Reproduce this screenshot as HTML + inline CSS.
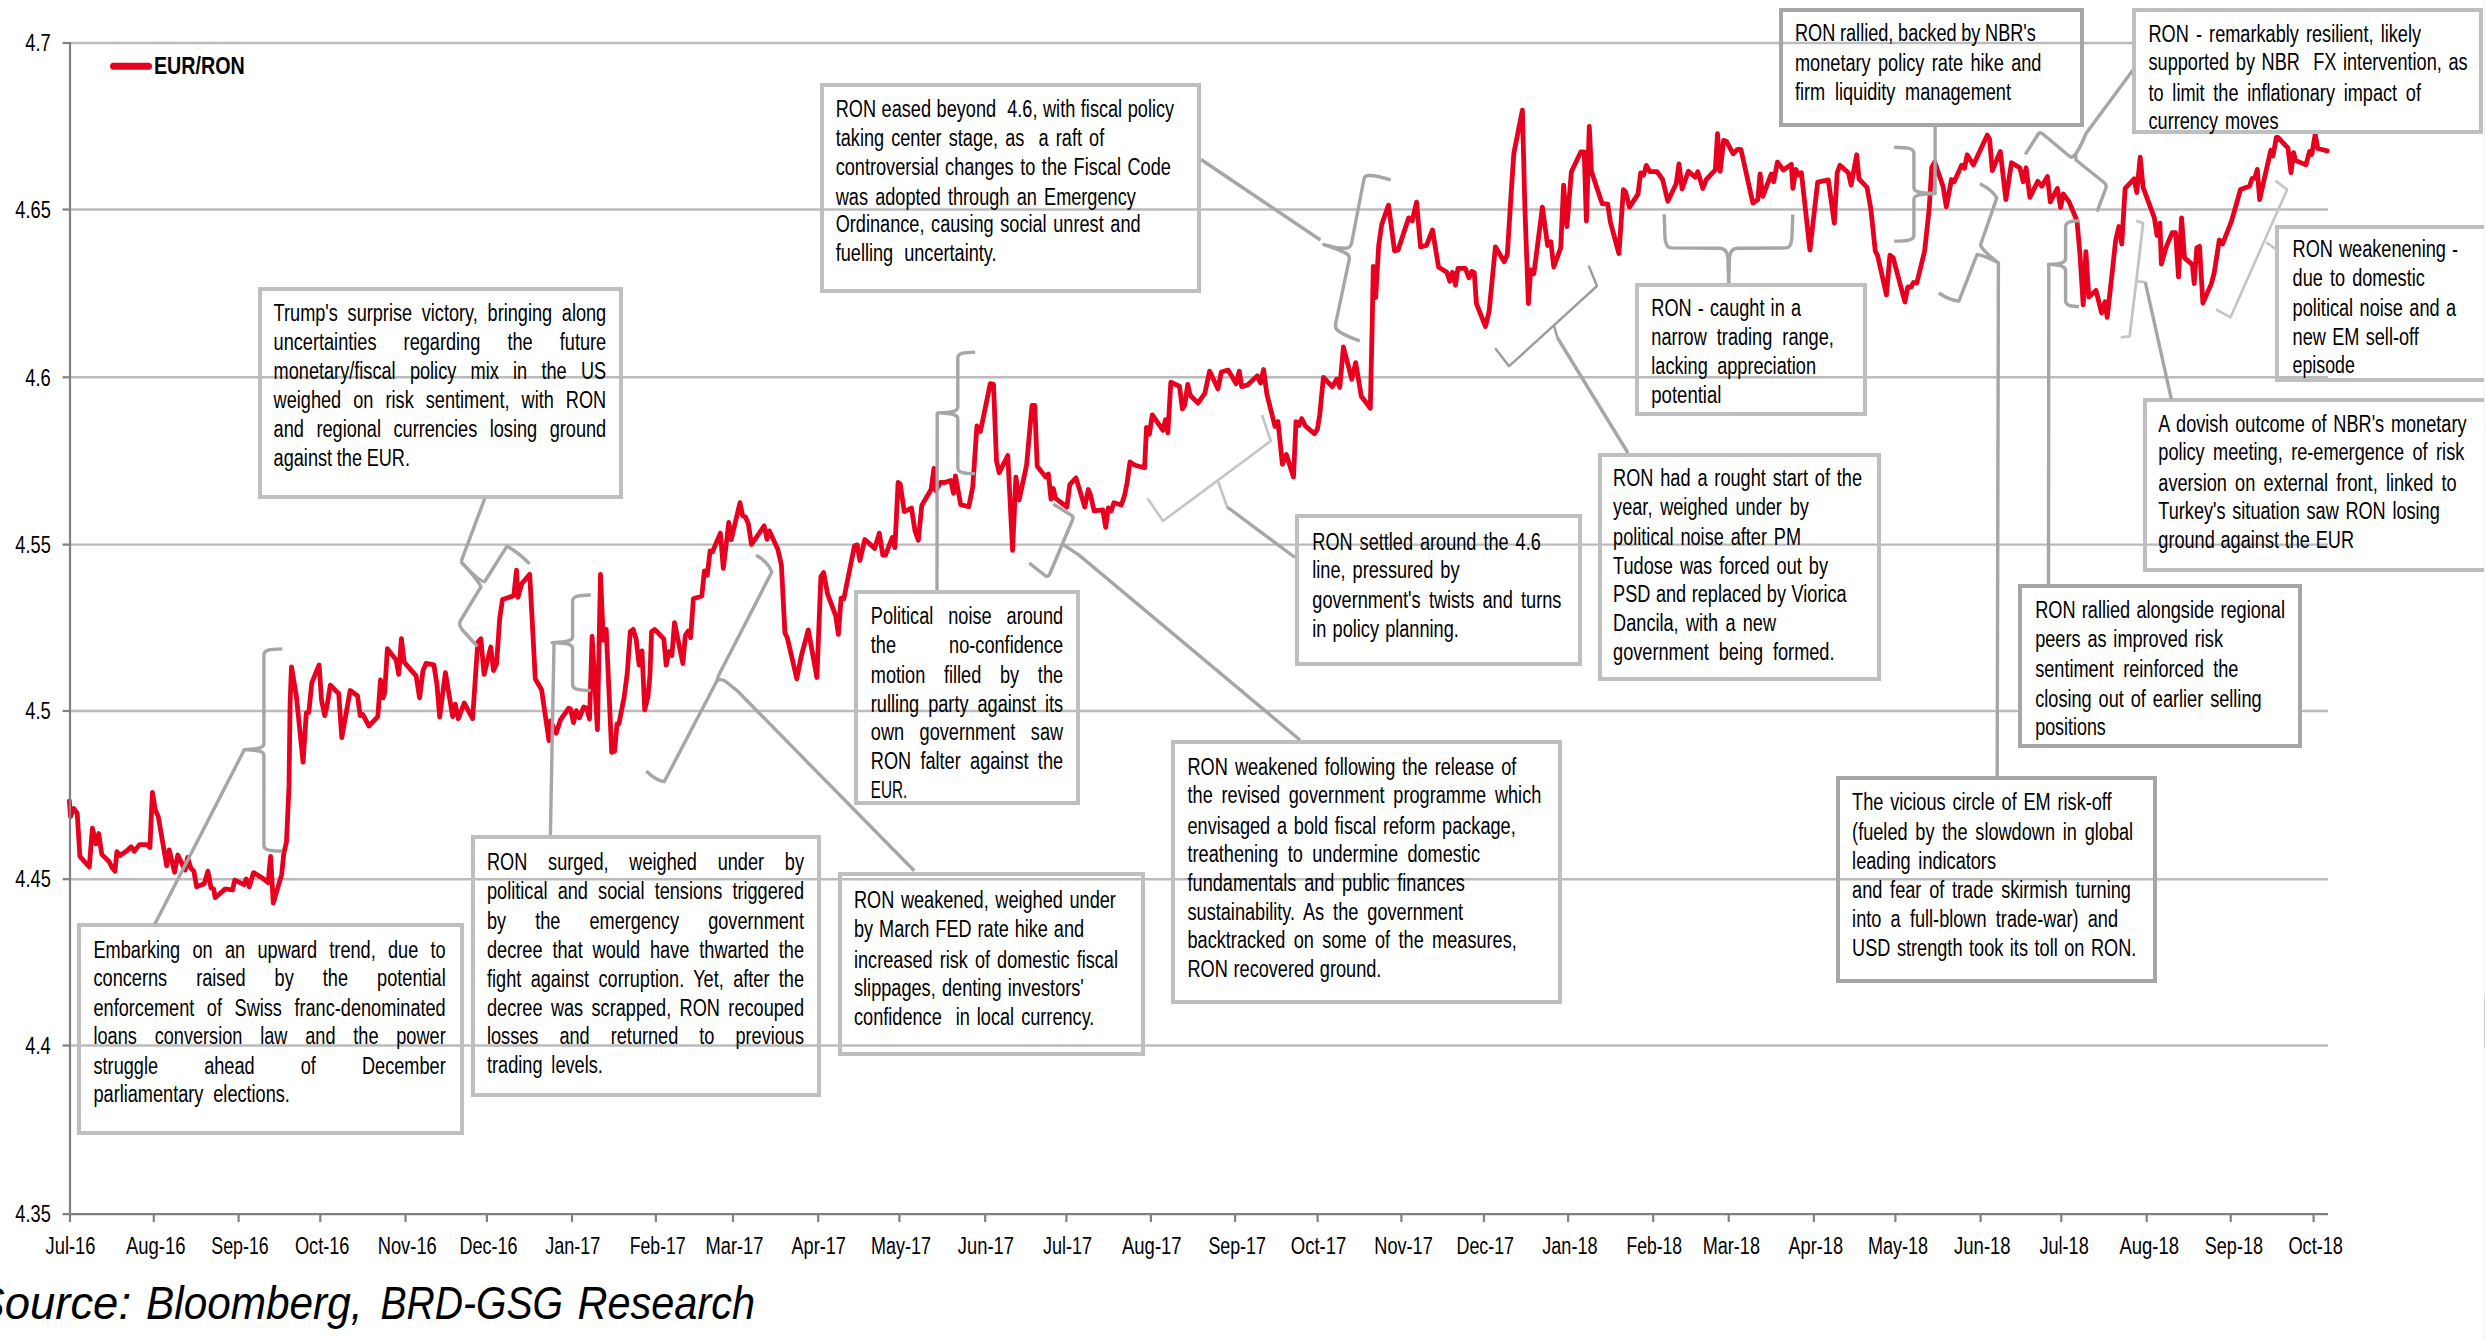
<!DOCTYPE html>
<html><head><meta charset="utf-8"><title>EUR/RON</title>
<style>html,body{margin:0;padding:0;background:#fff;overflow:hidden}svg{display:block}text{font-family:"Liberation Sans",sans-serif;fill:#000}</style></head><body>
<svg width="2485" height="1339" viewBox="0 0 2485 1339">
<rect width="2485" height="1339" fill="#fff"/>
<g stroke="#bbbbbb" stroke-width="2.4" fill="none">
<path d="M70 43H2328"/>
<path d="M70 209.5H2328"/>
<path d="M70 377.3H2328"/>
<path d="M70 544.6H2328"/>
<path d="M70 711.0H2328"/>
<path d="M70 879.2H2328"/>
<path d="M70 1045.5H2328"/>
</g>
<rect x="79.0" y="925.0" width="383.0" height="208.0" fill="none" stroke="#bfbfbf" stroke-width="4"/>
<rect x="473.0" y="837.0" width="346.0" height="258.0" fill="none" stroke="#bfbfbf" stroke-width="4"/>
<rect x="260.0" y="289.0" width="361.0" height="208.0" fill="none" stroke="#bfbfbf" stroke-width="4"/>
<rect x="822.0" y="85.0" width="377.0" height="206.0" fill="none" stroke="#bfbfbf" stroke-width="4"/>
<rect x="856.0" y="592.0" width="222.0" height="211.0" fill="none" stroke="#bfbfbf" stroke-width="4"/>
<rect x="840.0" y="874.0" width="303.0" height="180.0" fill="none" stroke="#bfbfbf" stroke-width="4"/>
<rect x="1173.0" y="742.0" width="387.0" height="260.0" fill="none" stroke="#bfbfbf" stroke-width="4"/>
<rect x="1297.0" y="516.0" width="283.0" height="148.0" fill="none" stroke="#bfbfbf" stroke-width="4"/>
<rect x="1600.0" y="455.0" width="279.0" height="224.0" fill="none" stroke="#bfbfbf" stroke-width="4"/>
<rect x="1637.0" y="285.0" width="228.0" height="129.0" fill="none" stroke="#bfbfbf" stroke-width="4"/>
<rect x="1781.0" y="10.0" width="301.0" height="115.0" fill="none" stroke="#a6a6a6" stroke-width="4"/>
<rect x="2277.0" y="227.0" width="216.0" height="153.0" fill="none" stroke="#bfbfbf" stroke-width="4"/>
<rect x="2145.0" y="400.0" width="348.0" height="170.0" fill="none" stroke="#bfbfbf" stroke-width="4"/>
<rect x="1838.0" y="778.0" width="317.0" height="203.0" fill="none" stroke="#a6a6a6" stroke-width="4"/>
<polyline points="69.4,801.0 70.5,816.7 73.6,808.4 77.2,813.2 79.9,856.5 89.3,866.9 92.4,828.2 96.0,843.9 98.7,833.5 101.8,854.4 109.2,861.7 112.3,868.0 115.0,871.1 116.9,851.7 120.0,855.4 126.9,850.8 131.1,846.7 134.3,851.3 139.5,844.6 146.8,844.6 149.9,847.5 152.4,792.3 155.2,809.4 158.3,816.7 166.7,865.9 169.2,849.8 174.6,872.2 177.8,855.0 185.1,870.1 187.6,857.5 190.7,868.0 193.9,871.1 196.6,886.8 204.3,883.7 207.9,871.1 211.0,887.9 213.7,888.9 215.2,897.7 225.2,888.9 232.6,890.0 234.7,880.1 244.1,884.7 246.2,878.9 249.3,886.8 253.5,872.6 262.9,878.4 268.1,882.6 270.6,856.5 273.3,903.1 281.7,874.3 283.8,853.4 286.5,841.8 289.0,786.4 290.1,702.8 291.5,666.8 296.4,696.5 303.1,762.2 306.3,712.8 308.8,712.4 311.8,682.8 319.1,664.9 321.5,699.9 324.7,715.6 327.2,705.1 330.3,685.2 338.7,693.6 341.8,737.5 350.2,690.5 357.5,695.7 360.2,715.6 362.7,714.5 369.0,726.0 377.8,716.6 380.5,680.0 383.2,697.8 384.7,692.6 387.4,648.6 396.2,660.1 398.7,674.4 401.4,638.6 404.2,662.2 416.1,675.8 419.6,697.8 423.0,670.6 426.1,663.3 433.9,664.9 437.0,685.2 439.7,717.0 445.4,672.7 452.7,716.6 455.2,704.1 458.3,718.7 464.2,703.0 472.6,718.7 477.8,642.4 480.9,638.8 484.1,674.4 490.8,647.0 493.5,670.6 496.6,663.9 499.7,618.3 502.5,599.5 513.8,595.7 516.5,570.2 517.9,597.4 521.7,583.8 529.7,574.4 532.2,620.4 535.3,679.0 541.6,689.8 549.0,740.6 550.5,721.0 556.2,733.3 560.3,720.2 568.7,708.2 570.6,708.9 573.5,722.6 576.3,710.6 579.4,717.8 583.7,707.0 586.6,708.2 589.5,719.0 592.1,636.5 597.4,729.7 600.5,574.4 603.3,640.1 606.2,629.4 611.7,752.4 614.6,751.2 617.0,723.8 618.9,723.8 624.1,697.5 627.2,673.6 630.3,631.7 633.2,629.4 636.1,638.9 639.2,665.2 642.0,650.9 644.7,709.9 648.0,696.3 649.9,676.0 651.6,631.7 654.7,629.4 663.8,638.9 666.2,665.2 669.0,651.6 671.9,655.6 674.5,622.7 682.9,663.5 685.3,635.3 688.2,631.0 690.6,637.7 693.4,598.8 701.8,595.9 704.4,570.8 707.3,575.1 710.1,551.0 712.5,551.7 720.4,533.1 723.3,568.4 728.8,522.5 731.2,539.7 740.0,502.7 742.6,515.8 745.5,517.0 748.4,524.2 751.5,544.5 764.2,525.9 767.0,539.3 769.4,530.9 777.8,549.3 781.4,564.8 784.9,632.9 787.3,637.7 796.8,678.8 801.3,655.9 808.3,629.9 816.9,677.5 820.9,576.6 823.6,572.6 827.6,594.1 835.7,615.6 838.4,634.4 841.1,598.1 843.8,598.9 854.5,545.7 857.2,544.9 859.9,560.5 864.8,539.5 874.7,548.4 879.3,533.1 882.8,555.1 885.5,555.1 892.2,537.6 894.9,547.6 898.1,482.5 900.2,483.9 904.3,511.6 911.5,508.1 915.0,530.9 918.3,540.3 921.8,505.4 931.2,489.2 933.9,468.5 935.7,490.6 940.6,482.5 944.6,482.5 950.8,480.4 953.5,493.3 955.4,475.8 960.7,504.6 968.8,506.7 972.8,486.5 976.9,426.0 980.4,431.4 990.3,383.6 993.5,384.4 996.5,461.0 999.2,472.6 1007.8,455.6 1012.6,550.3 1015.9,477.1 1019.1,500.0 1026.6,465.0 1032.0,405.5 1034.8,405.5 1037.2,466.2 1045.5,476.9 1048.4,474.0 1051.0,499.2 1053.3,488.5 1055.6,498.3 1066.9,507.0 1069.8,484.7 1076.0,477.9 1084.8,507.0 1088.3,489.5 1090.6,495.3 1094.1,510.9 1102.8,509.9 1105.7,527.4 1108.3,508.0 1111.2,510.9 1113.9,502.7 1121.3,505.0 1124.6,495.3 1127.1,482.7 1130.0,461.9 1134.9,465.2 1144.6,467.8 1146.5,427.4 1149.4,434.2 1152.3,414.8 1163.0,430.3 1165.5,419.6 1167.9,432.8 1170.8,382.3 1179.5,386.2 1182.4,408.9 1184.8,405.0 1187.7,384.3 1190.2,395.3 1198.0,403.1 1204.8,393.4 1209.6,371.1 1218.0,388.9 1221.3,372.0 1228.1,370.1 1236.2,383.7 1239.3,371.1 1241.7,386.6 1247.5,385.0 1257.2,375.9 1260.5,383.1 1263.6,369.5 1266.9,394.4 1275.0,426.4 1278.0,421.6 1282.4,464.3 1286.3,454.6 1293.5,476.9 1296.0,421.6 1298.8,425.5 1301.7,418.6 1305.5,426.2 1314.4,433.7 1317.4,429.2 1319.8,414.3 1323.4,377.5 1332.4,386.8 1336.8,379.0 1339.8,387.4 1343.4,347.0 1351.8,379.3 1355.7,362.6 1361.3,396.3 1370.3,408.3 1372.1,329.1 1373.3,266.3 1375.7,297.7 1378.7,245.4 1381.7,224.5 1388.5,205.1 1394.5,250.8 1398.1,249.9 1408.6,217.9 1412.2,220.9 1416.6,202.1 1420.5,246.9 1426.5,245.4 1432.5,229.9 1438.5,266.9 1446.8,272.3 1449.8,281.3 1452.5,272.3 1455.5,285.2 1457.9,268.4 1465.4,268.4 1468.9,277.7 1471.9,271.4 1474.3,272.9 1476.4,303.7 1485.5,326.5 1489.1,311.5 1495.4,246.8 1504.2,261.8 1507.3,254.5 1511.0,196.0 1513.8,153.5 1522.4,110.2 1524.9,208.5 1528.4,303.5 1530.7,269.8 1533.9,273.7 1542.4,207.1 1547.6,245.5 1550.8,241.7 1553.8,267.0 1560.7,247.9 1563.6,185.1 1566.9,226.6 1571.4,171.7 1580.8,152.0 1584.2,152.0 1586.4,221.0 1589.3,126.4 1591.4,171.3 1602.1,203.5 1607.7,204.2 1610.4,222.1 1618.9,253.5 1623.4,189.6 1625.6,191.9 1629.5,207.1 1638.0,194.1 1640.7,172.8 1643.6,175.1 1646.3,165.4 1649.8,171.7 1657.0,171.7 1662.6,179.5 1667.8,201.3 1676.1,184.0 1679.0,163.9 1682.1,189.0 1688.4,171.3 1695.1,177.3 1697.8,171.7 1702.9,188.5 1706.3,179.5 1715.3,169.9 1717.5,133.6 1720.2,171.3 1723.6,140.3 1726.5,141.5 1733.2,153.8 1737.7,149.3 1741.0,149.7 1752.9,203.1 1757.8,199.7 1760.1,173.9 1762.8,196.3 1771.3,173.9 1773.7,181.8 1777.4,162.2 1783.4,170.0 1791.3,164.4 1792.9,188.4 1795.8,169.4 1798.7,175.0 1801.4,172.7 1809.9,250.0 1817.7,182.1 1828.3,179.9 1834.3,223.2 1837.2,172.7 1839.9,165.3 1848.4,172.7 1851.1,185.1 1856.7,154.8 1859.0,179.0 1867.0,187.3 1870.8,208.6 1875.3,251.2 1877.6,255.6 1886.5,294.9 1889.9,255.2 1893.2,257.9 1904.9,302.0 1907.8,287.0 1911.2,287.0 1913.4,282.5 1916.8,283.0 1924.6,251.2 1929.1,209.7 1931.8,167.1 1934.7,162.0 1943.0,186.2 1946.3,206.8 1951.5,179.5 1954.2,181.7 1961.6,165.3 1964.5,168.3 1967.2,154.8 1973.4,164.9 1987.3,135.1 1989.6,139.1 1992.3,170.5 2000.3,151.5 2005.9,199.6 2011.5,162.7 2019.8,167.8 2023.2,181.7 2026.1,167.8 2029.9,197.4 2037.8,181.3 2041.8,186.2 2047.5,176.5 2050.3,201.9 2057.4,188.4 2060.6,207.5 2063.3,194.0 2069.1,201.9 2074.7,215.3 2077.0,220.9 2079.9,253.4 2083.2,304.9 2085.9,251.6 2088.8,297.1 2096.0,290.4 2101.6,312.8 2105.0,301.6 2107.2,317.3 2111.7,276.9 2115.7,240.0 2118.9,226.5 2121.8,244.0 2125.1,188.4 2134.1,178.8 2136.8,192.5 2140.2,157.1 2143.1,187.3 2154.3,217.6 2157.0,235.5 2159.9,223.2 2161.4,264.2 2165.9,247.8 2172.2,232.6 2175.6,232.6 2178.5,276.9 2181.6,218.0 2184.5,257.9 2192.4,264.6 2194.2,283.6 2196.8,247.8 2199.5,246.2 2202.9,303.1 2211.4,283.6 2214.3,272.4 2219.3,240.0 2222.6,244.0 2231.6,220.9 2240.5,189.5 2249.5,186.2 2252.2,178.3 2254.7,178.3 2257.3,169.4 2259.6,199.6 2270.8,150.3 2273.0,155.9 2276.4,137.3 2278.0,137.3 2288.0,148.1 2291.0,172.7 2293.6,152.6 2295.4,160.4 2306.0,164.9 2309.5,151.5 2311.8,154.4 2315.2,134.2 2317.8,148.5 2327.3,150.8" fill="none" stroke="#e8001f" stroke-width="4.8" stroke-linejoin="round" stroke-linecap="round"/>
<path d="M282.3 648.9C270.9 649.2 263.9 649.5 263.9 654.9L263.9 743.6C263.9 748.0 258.9 748.9 244.2 749.6C258.9 750.3 263.9 751.2 263.9 755.6L263.9 845.3C263.9 850.7 270.9 851.0 282.3 851.3" fill="none" stroke="#a6a6a6" stroke-width="3.4" stroke-linejoin="round" stroke-linecap="butt"/>
<path d="M244.3 749.8L154.9 924" fill="none" stroke="#a6a6a6" stroke-width="3.4" stroke-linejoin="round" stroke-linecap="butt"/>
<path d="M529.5 563.8Q518 552 507 546.2L484.8 581.5Q480.5 582.5 461 561.8" fill="none" stroke="#a6a6a6" stroke-width="3.4" stroke-linejoin="round" stroke-linecap="butt"/>
<path d="M461 561.8Q478 580 480.9 586.9L460.3 621Q458.3 625 462.5 630L477.4 646.5" fill="none" stroke="#a6a6a6" stroke-width="3.4" stroke-linejoin="round" stroke-linecap="butt"/>
<path d="M461 561.8L484.6 499" fill="none" stroke="#a6a6a6" stroke-width="3.4" stroke-linejoin="round" stroke-linecap="butt"/>
<path d="M590.8 595.0C579.6 595.3 572.6 595.6 572.6 601.0L572.6 636.6C572.6 641.0 567.6 641.9 552.1 642.6C567.6 643.3 572.6 644.2 572.6 648.6L572.6 684.4C572.6 689.8 579.6 690.1 590.8 690.4" fill="none" stroke="#a6a6a6" stroke-width="3.4" stroke-linejoin="round" stroke-linecap="butt"/>
<path d="M554 644L550.4 835" fill="none" stroke="#a6a6a6" stroke-width="3.4" stroke-linejoin="round" stroke-linecap="butt"/>
<path d="M756.3 555.3Q768 562 771.8 572L719.7 673.3Q717.5 677 717.1 680.5L664.2 781.7Q655 780 646.3 771" fill="none" stroke="#a6a6a6" stroke-width="3.4" stroke-linejoin="round" stroke-linecap="butt"/>
<path d="M717.1 680.5Q722 678 727 682.5L736.8 690.3L914.2 870.8" fill="none" stroke="#a6a6a6" stroke-width="3.4" stroke-linejoin="round" stroke-linecap="butt"/>
<path d="M975.2 352.1C964.8 352.4 957.8 352.7 957.8 358.1L957.8 406.9C957.8 411.3 952.8 412.2 937.6 412.9C952.8 413.6 957.8 414.5 957.8 418.9L957.8 467.8C957.8 473.2 964.8 473.5 975.2 473.8" fill="none" stroke="#a6a6a6" stroke-width="3.4" stroke-linejoin="round" stroke-linecap="butt"/>
<path d="M937.2 413L937.0 590" fill="none" stroke="#a6a6a6" stroke-width="3.4" stroke-linejoin="round" stroke-linecap="butt"/>
<path d="M1053.3 504.1L1071 515Q1074 517 1072.5 520L1049.5 574.5Q1048 577.5 1045 575.5L1029.3 563.2" fill="none" stroke="#a6a6a6" stroke-width="3.4" stroke-linejoin="round" stroke-linecap="butt"/>
<path d="M1062 543.9L1078.5 554.6L1300 740" fill="none" stroke="#a6a6a6" stroke-width="3.4" stroke-linejoin="round" stroke-linecap="butt"/>
<path d="M1262 414.8L1270.8 441L1163 521L1147.5 498.3" fill="none" stroke="#c4c4c4" stroke-width="2.6" stroke-linejoin="round" stroke-linecap="butt"/>
<path d="M1218.3 481.7L1227.1 507" fill="none" stroke="#c4c4c4" stroke-width="2.6" stroke-linejoin="round" stroke-linecap="butt"/>
<path d="M1227.1 507L1295 557.5" fill="none" stroke="#a6a6a6" stroke-width="3.4" stroke-linejoin="round" stroke-linecap="butt"/>
<path d="M1201 159.5L1320.4 240" fill="none" stroke="#a6a6a6" stroke-width="3.4" stroke-linejoin="round" stroke-linecap="butt"/>
<path d="M1390.7 179.8Q1375 175 1368 175.5Q1364.5 175.8 1364 179L1351.6 243Q1350.5 248.5 1345 248.2Q1335 248 1323.8 244.6Q1342 250.5 1347 254Q1349.8 256 1349.2 259.5L1335.6 324Q1334.8 329 1339 331.5Q1347 336.5 1359.9 341" fill="none" stroke="#a6a6a6" stroke-width="3.4" stroke-linejoin="round" stroke-linecap="butt"/>
<path d="M1588.7 265.8L1597 286L1509.1 366.2L1495.2 348.3" fill="none" stroke="#9c9c9c" stroke-width="2.4" stroke-linejoin="round" stroke-linecap="butt"/>
<path d="M1553.9 325.2L1557.3 337.5" fill="none" stroke="#9c9c9c" stroke-width="2.4" stroke-linejoin="round" stroke-linecap="butt"/>
<path d="M1557.3 337.5L1628 453" fill="none" stroke="#a6a6a6" stroke-width="3.4" stroke-linejoin="round" stroke-linecap="butt"/>
<path d="M1664.2 214.3L1664.9 236Q1665.3 247.5 1671 247.9L1720 248.2Q1727.3 248.8 1727.9 258L1728.7 283" fill="none" stroke="#a6a6a6" stroke-width="3.4" stroke-linejoin="round" stroke-linecap="butt"/>
<path d="M1792.8 214.5L1792 236Q1791.6 247.5 1786 247.9L1737 248.2Q1730 248.8 1729.5 258L1728.7 283" fill="none" stroke="#a6a6a6" stroke-width="3.4" stroke-linejoin="round" stroke-linecap="butt"/>
<path d="M1935.1 127L1935.1 194" fill="none" stroke="#a6a6a6" stroke-width="3.4" stroke-linejoin="round" stroke-linecap="butt"/>
<path d="M1894.2 147.2C1906.9 147.5 1913.9 147.8 1913.9 153.2L1913.9 187.6C1913.9 192.0 1918.9 192.9 1935.1 193.6C1918.9 194.3 1913.9 195.2 1913.9 199.6L1913.9 235.3C1913.9 240.7 1906.9 241.0 1894.2 241.3" fill="none" stroke="#a6a6a6" stroke-width="3.4" stroke-linejoin="round" stroke-linecap="butt"/>
<path d="M1979.9 183.8Q1993 190.5 1996.7 198.1L1980.4 245.2Q1984 252 1998.4 262.8Q1985 256 1977.1 254.4L1958.9 301.1Q1949 300 1938.8 293" fill="none" stroke="#a6a6a6" stroke-width="3.4" stroke-linejoin="round" stroke-linecap="butt"/>
<path d="M1998.4 262.4L1997.2 777" fill="none" stroke="#a6a6a6" stroke-width="3.4" stroke-linejoin="round" stroke-linecap="butt"/>
<path d="M2025.3 154.4L2038.3 134Q2039.8 131.5 2042.5 133.8L2070.7 157.3L2075.7 155.3L2076 160L2104.3 182.8Q2107 185 2105.8 188.5L2097 211.6" fill="none" stroke="#a6a6a6" stroke-width="3.4" stroke-linejoin="round" stroke-linecap="butt"/>
<path d="M2073 157.5Q2079 151 2086 133.5L2133 70" fill="none" stroke="#a6a6a6" stroke-width="3.4" stroke-linejoin="round" stroke-linecap="butt"/>
<path d="M2079.1 220.8C2072.6 221.1 2065.6 221.4 2065.6 226.8L2065.6 258.4C2065.6 262.8 2060.6 263.7 2048.3 264.4C2060.6 265.1 2065.6 266.0 2065.6 270.4L2065.6 300.8C2065.6 306.2 2072.6 306.5 2079.1 306.8" fill="none" stroke="#a6a6a6" stroke-width="3.4" stroke-linejoin="round" stroke-linecap="butt"/>
<path d="M2048.8 264.6L2048.5 584" fill="none" stroke="#a6a6a6" stroke-width="3.4" stroke-linejoin="round" stroke-linecap="butt"/>
<path d="M2136.3 220.9L2143.1 223.2L2136.3 281.4L2145.3 282.1" fill="none" stroke="#c4c4c4" stroke-width="2.8" stroke-linejoin="round" stroke-linecap="butt"/>
<path d="M2136.3 281.4L2129.6 336.3L2120.7 337.4" fill="none" stroke="#c4c4c4" stroke-width="2.8" stroke-linejoin="round" stroke-linecap="butt"/>
<path d="M2145.3 282.1L2171.3 399" fill="none" stroke="#a6a6a6" stroke-width="3.4" stroke-linejoin="round" stroke-linecap="butt"/>
<path d="M2275.3 180.6L2287.1 189.5L2230.5 317.3L2215.9 309.4" fill="none" stroke="#c4c4c4" stroke-width="2.6" stroke-linejoin="round" stroke-linecap="butt"/>
<path d="M2266.3 242.2L2278.6 251.2" fill="none" stroke="#c4c4c4" stroke-width="2.6" stroke-linejoin="round" stroke-linecap="butt"/>
<rect x="2134.0" y="10.0" width="347.0" height="122.0" fill="#fff" stroke="#bfbfbf" stroke-width="4"/>
<rect x="2020.0" y="586.0" width="280.0" height="160.0" fill="#fff" stroke="#a6a6a6" stroke-width="4"/>
<g stroke="#808080" stroke-width="2.2" fill="none">
<path d="M70 42V1215.3"/>
<path d="M62.5 1214.2H2328"/>
<path d="M62.5 43H70"/>
<path d="M62.5 209.5H70"/>
<path d="M62.5 377.3H70"/>
<path d="M62.5 544.6H70"/>
<path d="M62.5 711.0H70"/>
<path d="M62.5 879.2H70"/>
<path d="M62.5 1045.5H70"/>
<path d="M70 1214.2V1222"/>
<path d="M153.8 1214.2V1222"/>
<path d="M238.6 1214.2V1222"/>
<path d="M320.3 1214.2V1222"/>
<path d="M405.5 1214.2V1222"/>
<path d="M486.9 1214.2V1222"/>
<path d="M572.0 1214.2V1222"/>
<path d="M655.9 1214.2V1222"/>
<path d="M733.0 1214.2V1222"/>
<path d="M818.2 1214.2V1222"/>
<path d="M899.4 1214.2V1222"/>
<path d="M985.2 1214.2V1222"/>
<path d="M1066.4 1214.2V1222"/>
<path d="M1150.9 1214.2V1222"/>
<path d="M1235.1 1214.2V1222"/>
<path d="M1317.6 1214.2V1222"/>
<path d="M1401.4 1214.2V1222"/>
<path d="M1483.9 1214.2V1222"/>
<path d="M1568.1 1214.2V1222"/>
<path d="M1653.2 1214.2V1222"/>
<path d="M1728.7 1214.2V1222"/>
<path d="M1813.9 1214.2V1222"/>
<path d="M1895.4 1214.2V1222"/>
<path d="M1980.6 1214.2V1222"/>
<path d="M2061.3 1214.2V1222"/>
<path d="M2146.7 1214.2V1222"/>
<path d="M2230.7 1214.2V1222"/>
<path d="M2313.6 1214.2V1222"/>
</g>
<text x="25.3" y="51.2" font-size="23" textLength="25.5" lengthAdjust="spacingAndGlyphs" xml:space="preserve">4.7</text>
<text x="15.3" y="217.7" font-size="23" textLength="35.5" lengthAdjust="spacingAndGlyphs" xml:space="preserve">4.65</text>
<text x="25.3" y="385.5" font-size="23" textLength="25.5" lengthAdjust="spacingAndGlyphs" xml:space="preserve">4.6</text>
<text x="15.3" y="552.8" font-size="23" textLength="35.5" lengthAdjust="spacingAndGlyphs" xml:space="preserve">4.55</text>
<text x="25.3" y="719.2" font-size="23" textLength="25.5" lengthAdjust="spacingAndGlyphs" xml:space="preserve">4.5</text>
<text x="15.3" y="887.4" font-size="23" textLength="35.5" lengthAdjust="spacingAndGlyphs" xml:space="preserve">4.45</text>
<text x="25.3" y="1053.7" font-size="23" textLength="25.5" lengthAdjust="spacingAndGlyphs" xml:space="preserve">4.4</text>
<text x="15.3" y="1222.3" font-size="23" textLength="35.5" lengthAdjust="spacingAndGlyphs" xml:space="preserve">4.35</text>
<text x="45.6" y="1253.6" font-size="23" textLength="49.9" lengthAdjust="spacingAndGlyphs" xml:space="preserve">Jul-16</text>
<text x="125.9" y="1253.6" font-size="23" textLength="59.7" lengthAdjust="spacingAndGlyphs" xml:space="preserve">Aug-16</text>
<text x="211.3" y="1253.6" font-size="23" textLength="57.4" lengthAdjust="spacingAndGlyphs" xml:space="preserve">Sep-16</text>
<text x="294.9" y="1253.6" font-size="23" textLength="54.6" lengthAdjust="spacingAndGlyphs" xml:space="preserve">Oct-16</text>
<text x="377.7" y="1253.6" font-size="23" textLength="59.1" lengthAdjust="spacingAndGlyphs" xml:space="preserve">Nov-16</text>
<text x="459.5" y="1253.6" font-size="23" textLength="58.1" lengthAdjust="spacingAndGlyphs" xml:space="preserve">Dec-16</text>
<text x="545.3" y="1253.6" font-size="23" textLength="55.1" lengthAdjust="spacingAndGlyphs" xml:space="preserve">Jan-17</text>
<text x="629.8" y="1253.6" font-size="23" textLength="55.8" lengthAdjust="spacingAndGlyphs" xml:space="preserve">Feb-17</text>
<text x="705.6" y="1253.6" font-size="23" textLength="57.8" lengthAdjust="spacingAndGlyphs" xml:space="preserve">Mar-17</text>
<text x="791.5" y="1253.6" font-size="23" textLength="54.4" lengthAdjust="spacingAndGlyphs" xml:space="preserve">Apr-17</text>
<text x="871.0" y="1253.6" font-size="23" textLength="60.0" lengthAdjust="spacingAndGlyphs" xml:space="preserve">May-17</text>
<text x="957.8" y="1253.6" font-size="23" textLength="56.1" lengthAdjust="spacingAndGlyphs" xml:space="preserve">Jun-17</text>
<text x="1043.0" y="1253.6" font-size="23" textLength="49.0" lengthAdjust="spacingAndGlyphs" xml:space="preserve">Jul-17</text>
<text x="1122.0" y="1253.6" font-size="23" textLength="59.6" lengthAdjust="spacingAndGlyphs" xml:space="preserve">Aug-17</text>
<text x="1208.4" y="1253.6" font-size="23" textLength="57.4" lengthAdjust="spacingAndGlyphs" xml:space="preserve">Sep-17</text>
<text x="1290.8" y="1253.6" font-size="23" textLength="55.5" lengthAdjust="spacingAndGlyphs" xml:space="preserve">Oct-17</text>
<text x="1374.3" y="1253.6" font-size="23" textLength="58.5" lengthAdjust="spacingAndGlyphs" xml:space="preserve">Nov-17</text>
<text x="1456.5" y="1253.6" font-size="23" textLength="57.5" lengthAdjust="spacingAndGlyphs" xml:space="preserve">Dec-17</text>
<text x="1542.3" y="1253.6" font-size="23" textLength="55.2" lengthAdjust="spacingAndGlyphs" xml:space="preserve">Jan-18</text>
<text x="1626.5" y="1253.6" font-size="23" textLength="55.5" lengthAdjust="spacingAndGlyphs" xml:space="preserve">Feb-18</text>
<text x="1702.7" y="1253.6" font-size="23" textLength="57.3" lengthAdjust="spacingAndGlyphs" xml:space="preserve">Mar-18</text>
<text x="1788.5" y="1253.6" font-size="23" textLength="54.5" lengthAdjust="spacingAndGlyphs" xml:space="preserve">Apr-18</text>
<text x="1868.0" y="1253.6" font-size="23" textLength="60.0" lengthAdjust="spacingAndGlyphs" xml:space="preserve">May-18</text>
<text x="1954.1" y="1253.6" font-size="23" textLength="56.5" lengthAdjust="spacingAndGlyphs" xml:space="preserve">Jun-18</text>
<text x="2039.4" y="1253.6" font-size="23" textLength="49.4" lengthAdjust="spacingAndGlyphs" xml:space="preserve">Jul-18</text>
<text x="2119.4" y="1253.6" font-size="23" textLength="59.6" lengthAdjust="spacingAndGlyphs" xml:space="preserve">Aug-18</text>
<text x="2204.8" y="1253.6" font-size="23" textLength="58.2" lengthAdjust="spacingAndGlyphs" xml:space="preserve">Sep-18</text>
<text x="2288.4" y="1253.6" font-size="23" textLength="54.6" lengthAdjust="spacingAndGlyphs" xml:space="preserve">Oct-18</text>
<path d="M113.5 66.3H148.5" stroke="#e8001f" stroke-width="7" stroke-linecap="round"/>
<text x="153.9" y="74.0" font-size="24" font-weight="bold" textLength="90.8" lengthAdjust="spacingAndGlyphs" xml:space="preserve">EUR/RON</text>
<text x="-25.5" y="1319.0" font-size="45.5" font-style="italic" textLength="156.5" lengthAdjust="spacingAndGlyphs" xml:space="preserve">Source:</text>
<text x="146.0" y="1319.0" font-size="45.5" font-style="italic" textLength="216.5" lengthAdjust="spacingAndGlyphs" xml:space="preserve">Bloomberg,</text>
<text x="380.5" y="1319.0" font-size="45.5" font-style="italic" textLength="182.5" lengthAdjust="spacingAndGlyphs" xml:space="preserve">BRD-GSG</text>
<text x="577.5" y="1319.0" font-size="45.5" font-style="italic" textLength="177.5" lengthAdjust="spacingAndGlyphs" xml:space="preserve">Research</text>
<text x="93.5" y="957.5" font-size="23.5" textLength="352.2" lengthAdjust="spacingAndGlyphs" word-spacing="9.41" xml:space="preserve">Embarking on an upward trend, due to</text>
<text x="93.5" y="986.0" font-size="23.5" textLength="352.2" lengthAdjust="spacingAndGlyphs" word-spacing="31.10" xml:space="preserve">concerns raised by the potential</text>
<text x="93.5" y="1016.3" font-size="23.5" textLength="352.2" lengthAdjust="spacingAndGlyphs" word-spacing="9.70" xml:space="preserve">enforcement of Swiss franc-denominated</text>
<text x="93.5" y="1044.0" font-size="23.5" textLength="352.2" lengthAdjust="spacingAndGlyphs" word-spacing="16.52" xml:space="preserve">loans conversion law and the power</text>
<text x="93.5" y="1073.5" font-size="23.5" textLength="352.2" lengthAdjust="spacingAndGlyphs" word-spacing="53.23" xml:space="preserve">struggle ahead of December</text>
<text x="93.5" y="1102.2" font-size="23.5" textLength="196.4" lengthAdjust="spacingAndGlyphs" word-spacing="6.23" xml:space="preserve">parliamentary elections.</text>
<text x="487.0" y="870.2" font-size="23.5" textLength="317.0" lengthAdjust="spacingAndGlyphs" word-spacing="20.36" xml:space="preserve">RON surged, weighed under by</text>
<text x="487.0" y="899.0" font-size="23.5" textLength="317.0" lengthAdjust="spacingAndGlyphs" word-spacing="6.64" xml:space="preserve">political and social tensions triggered</text>
<text x="487.0" y="928.9" font-size="23.5" textLength="317.0" lengthAdjust="spacingAndGlyphs" word-spacing="31.07" xml:space="preserve">by the emergency government</text>
<text x="487.0" y="958.2" font-size="23.5" textLength="317.0" lengthAdjust="spacingAndGlyphs" word-spacing="6.35" xml:space="preserve">decree that would have thwarted the</text>
<text x="487.0" y="987.2" font-size="23.5" textLength="317.0" lengthAdjust="spacingAndGlyphs" word-spacing="5.57" xml:space="preserve">fight against corruption. Yet, after the</text>
<text x="487.0" y="1015.5" font-size="23.5" textLength="317.0" lengthAdjust="spacingAndGlyphs" word-spacing="4.36" xml:space="preserve">decree was scrapped, RON recouped</text>
<text x="487.0" y="1044.1" font-size="23.5" textLength="317.0" lengthAdjust="spacingAndGlyphs" word-spacing="20.68" xml:space="preserve">losses and returned to previous</text>
<text x="487.0" y="1072.9" font-size="23.5" textLength="115.8" lengthAdjust="spacingAndGlyphs" word-spacing="5.00" xml:space="preserve">trading levels.</text>
<text x="273.6" y="320.6" font-size="23.5" textLength="332.6" lengthAdjust="spacingAndGlyphs" word-spacing="6.02" xml:space="preserve">Trump's surprise victory, bringing along</text>
<text x="273.6" y="349.6" font-size="23.5" textLength="332.6" lengthAdjust="spacingAndGlyphs" word-spacing="28.65" xml:space="preserve">uncertainties regarding the future</text>
<text x="273.6" y="379.1" font-size="23.5" textLength="332.6" lengthAdjust="spacingAndGlyphs" word-spacing="11.98" xml:space="preserve">monetary/fiscal policy mix in the US</text>
<text x="273.6" y="408.4" font-size="23.5" textLength="332.6" lengthAdjust="spacingAndGlyphs" word-spacing="9.11" xml:space="preserve">weighed on risk sentiment, with RON</text>
<text x="273.6" y="437.4" font-size="23.5" textLength="332.6" lengthAdjust="spacingAndGlyphs" word-spacing="9.73" xml:space="preserve">and regional currencies losing ground</text>
<text x="273.6" y="465.5" font-size="23.5" textLength="136.4" lengthAdjust="spacingAndGlyphs" word-spacing="-0.48" xml:space="preserve">against the EUR.</text>
<text x="835.7" y="117.0" font-size="23.5" textLength="338.4" lengthAdjust="spacingAndGlyphs" word-spacing="0.67" xml:space="preserve">RON eased beyond  4.6, with fiscal policy</text>
<text x="835.7" y="145.8" font-size="23.5" textLength="268.5" lengthAdjust="spacingAndGlyphs" word-spacing="2.66" xml:space="preserve">taking center stage, as  a raft of</text>
<text x="835.7" y="175.3" font-size="23.5" textLength="335.2" lengthAdjust="spacingAndGlyphs" word-spacing="1.93" xml:space="preserve">controversial changes to the Fiscal Code</text>
<text x="835.7" y="204.8" font-size="23.5" textLength="300.1" lengthAdjust="spacingAndGlyphs" word-spacing="2.79" xml:space="preserve">was adopted through an Emergency</text>
<text x="835.7" y="232.3" font-size="23.5" textLength="304.9" lengthAdjust="spacingAndGlyphs" word-spacing="2.07" xml:space="preserve">Ordinance, causing social unrest and</text>
<text x="835.7" y="261.3" font-size="23.5" textLength="160.9" lengthAdjust="spacingAndGlyphs" word-spacing="7.68" xml:space="preserve">fuelling uncertainty.</text>
<text x="870.8" y="624.3" font-size="23.5" textLength="192.3" lengthAdjust="spacingAndGlyphs" word-spacing="12.85" xml:space="preserve">Political noise around</text>
<text x="870.8" y="653.3" font-size="23.5" textLength="192.3" lengthAdjust="spacingAndGlyphs" word-spacing="62.26" xml:space="preserve">the no-confidence</text>
<text x="870.8" y="683.4" font-size="23.5" textLength="192.3" lengthAdjust="spacingAndGlyphs" word-spacing="17.72" xml:space="preserve">motion filled by the</text>
<text x="870.8" y="711.5" font-size="23.5" textLength="192.3" lengthAdjust="spacingAndGlyphs" word-spacing="5.09" xml:space="preserve">rulling party against its</text>
<text x="870.8" y="739.8" font-size="23.5" textLength="192.3" lengthAdjust="spacingAndGlyphs" word-spacing="13.52" xml:space="preserve">own government saw</text>
<text x="870.8" y="769.1" font-size="23.5" textLength="192.3" lengthAdjust="spacingAndGlyphs" word-spacing="5.53" xml:space="preserve">RON falter against the</text>
<text x="870.8" y="798.1" font-size="23.5" textLength="36.4" lengthAdjust="spacingAndGlyphs" xml:space="preserve">EUR.</text>
<text x="854.0" y="907.5" font-size="23.5" textLength="261.9" lengthAdjust="spacingAndGlyphs" word-spacing="2.04" xml:space="preserve">RON weakened, weighed under</text>
<text x="854.0" y="936.9" font-size="23.5" textLength="230.1" lengthAdjust="spacingAndGlyphs" word-spacing="1.10" xml:space="preserve">by March FED rate hike and</text>
<text x="854.0" y="967.9" font-size="23.5" textLength="264.0" lengthAdjust="spacingAndGlyphs" word-spacing="2.56" xml:space="preserve">increased risk of domestic fiscal</text>
<text x="854.0" y="995.7" font-size="23.5" textLength="229.8" lengthAdjust="spacingAndGlyphs" word-spacing="1.58" xml:space="preserve">slippages, denting investors'</text>
<text x="854.0" y="1024.7" font-size="23.5" textLength="240.4" lengthAdjust="spacingAndGlyphs" word-spacing="2.52" xml:space="preserve">confidence  in local currency.</text>
<text x="1187.5" y="775.3" font-size="23.5" textLength="328.9" lengthAdjust="spacingAndGlyphs" word-spacing="2.65" xml:space="preserve">RON weakened following the release of</text>
<text x="1187.5" y="803.4" font-size="23.5" textLength="353.8" lengthAdjust="spacingAndGlyphs" word-spacing="4.86" xml:space="preserve">the revised government programme which</text>
<text x="1187.5" y="834.0" font-size="23.5" textLength="328.2" lengthAdjust="spacingAndGlyphs" word-spacing="2.21" xml:space="preserve">envisaged a bold fiscal reform package,</text>
<text x="1187.5" y="862.1" font-size="23.5" textLength="292.5" lengthAdjust="spacingAndGlyphs" word-spacing="5.68" xml:space="preserve">treathening to undermine domestic</text>
<text x="1187.5" y="890.7" font-size="23.5" textLength="277.3" lengthAdjust="spacingAndGlyphs" word-spacing="3.46" xml:space="preserve">fundamentals and public finances</text>
<text x="1187.5" y="919.5" font-size="23.5" textLength="275.6" lengthAdjust="spacingAndGlyphs" word-spacing="5.06" xml:space="preserve">sustainability. As the government</text>
<text x="1187.5" y="948.1" font-size="23.5" textLength="329.3" lengthAdjust="spacingAndGlyphs" word-spacing="4.33" xml:space="preserve">backtracked on some of the measures,</text>
<text x="1187.5" y="977.4" font-size="23.5" textLength="193.9" lengthAdjust="spacingAndGlyphs" word-spacing="0.84" xml:space="preserve">RON recovered ground.</text>
<text x="1312.3" y="549.7" font-size="23.5" textLength="228.5" lengthAdjust="spacingAndGlyphs" word-spacing="2.48" xml:space="preserve">RON settled around the 4.6</text>
<text x="1312.3" y="577.7" font-size="23.5" textLength="147.2" lengthAdjust="spacingAndGlyphs" word-spacing="2.59" xml:space="preserve">line, pressured by</text>
<text x="1312.3" y="608.2" font-size="23.5" textLength="249.1" lengthAdjust="spacingAndGlyphs" word-spacing="4.18" xml:space="preserve">government's twists and turns</text>
<text x="1312.3" y="636.9" font-size="23.5" textLength="146.5" lengthAdjust="spacingAndGlyphs" word-spacing="1.47" xml:space="preserve">in policy planning.</text>
<text x="1613.1" y="485.9" font-size="23.5" textLength="248.9" lengthAdjust="spacingAndGlyphs" word-spacing="2.36" xml:space="preserve">RON had a rought start of the</text>
<text x="1613.1" y="514.8" font-size="23.5" textLength="195.7" lengthAdjust="spacingAndGlyphs" word-spacing="3.50" xml:space="preserve">year, weighed under by</text>
<text x="1613.1" y="544.7" font-size="23.5" textLength="187.9" lengthAdjust="spacingAndGlyphs" word-spacing="2.33" xml:space="preserve">political noise after PM</text>
<text x="1613.1" y="573.6" font-size="23.5" textLength="214.9" lengthAdjust="spacingAndGlyphs" word-spacing="2.54" xml:space="preserve">Tudose was forced out by</text>
<text x="1613.1" y="601.9" font-size="23.5" textLength="233.6" lengthAdjust="spacingAndGlyphs" word-spacing="0.64" xml:space="preserve">PSD and replaced by Viorica</text>
<text x="1613.1" y="630.5" font-size="23.5" textLength="162.9" lengthAdjust="spacingAndGlyphs" word-spacing="2.85" xml:space="preserve">Dancila, with a new</text>
<text x="1613.1" y="659.7" font-size="23.5" textLength="221.4" lengthAdjust="spacingAndGlyphs" word-spacing="6.23" xml:space="preserve">government being formed.</text>
<text x="1651.3" y="315.6" font-size="23.5" textLength="149.7" lengthAdjust="spacingAndGlyphs" word-spacing="1.46" xml:space="preserve">RON - caught in a</text>
<text x="1651.3" y="344.5" font-size="23.5" textLength="182.5" lengthAdjust="spacingAndGlyphs" word-spacing="6.51" xml:space="preserve">narrow trading range,</text>
<text x="1651.3" y="374.4" font-size="23.5" textLength="164.7" lengthAdjust="spacingAndGlyphs" word-spacing="5.62" xml:space="preserve">lacking appreciation</text>
<text x="1651.3" y="402.7" font-size="23.5" textLength="70.1" lengthAdjust="spacingAndGlyphs" xml:space="preserve">potential</text>
<text x="1795.0" y="41.3" font-size="23.5" textLength="240.9" lengthAdjust="spacingAndGlyphs" word-spacing="-0.49" xml:space="preserve">RON rallied, backed by NBR's</text>
<text x="1795.0" y="70.5" font-size="23.5" textLength="246.4" lengthAdjust="spacingAndGlyphs" word-spacing="3.05" xml:space="preserve">monetary policy rate hike and</text>
<text x="1795.0" y="100.4" font-size="23.5" textLength="216.0" lengthAdjust="spacingAndGlyphs" word-spacing="6.02" xml:space="preserve">firm liquidity management</text>
<text x="2148.5" y="41.7" font-size="23.5" textLength="272.5" lengthAdjust="spacingAndGlyphs" word-spacing="2.71" xml:space="preserve">RON - remarkably resilient, likely</text>
<text x="2148.5" y="70.0" font-size="23.5" textLength="319.1" lengthAdjust="spacingAndGlyphs" word-spacing="2.06" xml:space="preserve">supported by NBR  FX intervention, as</text>
<text x="2148.5" y="100.5" font-size="23.5" textLength="272.5" lengthAdjust="spacingAndGlyphs" word-spacing="4.77" xml:space="preserve">to limit the inflationary impact of</text>
<text x="2148.5" y="128.8" font-size="23.5" textLength="130.0" lengthAdjust="spacingAndGlyphs" word-spacing="2.54" xml:space="preserve">currency moves</text>
<text x="2292.6" y="257.2" font-size="23.5" textLength="165.4" lengthAdjust="spacingAndGlyphs" word-spacing="1.32" xml:space="preserve">RON weakenening -</text>
<text x="2292.6" y="285.9" font-size="23.5" textLength="132.2" lengthAdjust="spacingAndGlyphs" word-spacing="2.67" xml:space="preserve">due to domestic</text>
<text x="2292.6" y="315.8" font-size="23.5" textLength="163.6" lengthAdjust="spacingAndGlyphs" word-spacing="1.83" xml:space="preserve">political noise and a</text>
<text x="2292.6" y="344.5" font-size="23.5" textLength="126.2" lengthAdjust="spacingAndGlyphs" word-spacing="1.63" xml:space="preserve">new EM sell-off</text>
<text x="2292.6" y="373.1" font-size="23.5" textLength="62.2" lengthAdjust="spacingAndGlyphs" xml:space="preserve">episode</text>
<text x="2158.3" y="432.2" font-size="23.5" textLength="308.2" lengthAdjust="spacingAndGlyphs" word-spacing="2.15" xml:space="preserve">A dovish outcome of NBR's monetary</text>
<text x="2158.3" y="460.3" font-size="23.5" textLength="306.0" lengthAdjust="spacingAndGlyphs" word-spacing="4.40" xml:space="preserve">policy meeting, re-emergence of risk</text>
<text x="2158.3" y="491.1" font-size="23.5" textLength="298.4" lengthAdjust="spacingAndGlyphs" word-spacing="4.15" xml:space="preserve">aversion on external front, linked to</text>
<text x="2158.3" y="518.9" font-size="23.5" textLength="281.5" lengthAdjust="spacingAndGlyphs" word-spacing="2.10" xml:space="preserve">Turkey's situation saw RON losing</text>
<text x="2158.3" y="548.1" font-size="23.5" textLength="195.7" lengthAdjust="spacingAndGlyphs" word-spacing="0.89" xml:space="preserve">ground against the EUR</text>
<text x="2035.2" y="618.2" font-size="23.5" textLength="249.8" lengthAdjust="spacingAndGlyphs" word-spacing="1.61" xml:space="preserve">RON rallied alongside regional</text>
<text x="2035.2" y="647.1" font-size="23.5" textLength="187.8" lengthAdjust="spacingAndGlyphs" word-spacing="2.29" xml:space="preserve">peers as improved risk</text>
<text x="2035.2" y="676.9" font-size="23.5" textLength="203.2" lengthAdjust="spacingAndGlyphs" word-spacing="5.55" xml:space="preserve">sentiment reinforced the</text>
<text x="2035.2" y="706.5" font-size="23.5" textLength="226.4" lengthAdjust="spacingAndGlyphs" word-spacing="2.45" xml:space="preserve">closing out of earlier selling</text>
<text x="2035.2" y="735.4" font-size="23.5" textLength="70.6" lengthAdjust="spacingAndGlyphs" xml:space="preserve">positions</text>
<text x="1852.1" y="810.2" font-size="23.5" textLength="259.5" lengthAdjust="spacingAndGlyphs" word-spacing="2.28" xml:space="preserve">The vicious circle of EM risk-off</text>
<text x="1852.1" y="839.7" font-size="23.5" textLength="281.0" lengthAdjust="spacingAndGlyphs" word-spacing="3.56" xml:space="preserve">(fueled by the slowdown in global</text>
<text x="1852.1" y="869.3" font-size="23.5" textLength="143.9" lengthAdjust="spacingAndGlyphs" word-spacing="3.50" xml:space="preserve">leading indicators</text>
<text x="1852.1" y="898.2" font-size="23.5" textLength="278.8" lengthAdjust="spacingAndGlyphs" word-spacing="3.52" xml:space="preserve">and fear of trade skirmish turning</text>
<text x="1852.1" y="927.1" font-size="23.5" textLength="265.9" lengthAdjust="spacingAndGlyphs" word-spacing="5.45" xml:space="preserve">into a full-blown trade-war) and</text>
<text x="1852.1" y="956.3" font-size="23.5" textLength="284.2" lengthAdjust="spacingAndGlyphs" word-spacing="1.93" xml:space="preserve">USD strength took its toll on RON.</text>
<rect x="2484" y="0" width="1" height="1339" fill="#f1f1f1"/>
<rect x="2484" y="997.4" width="1" height="50.5" fill="#cbcbcb"/>
</svg></body></html>
